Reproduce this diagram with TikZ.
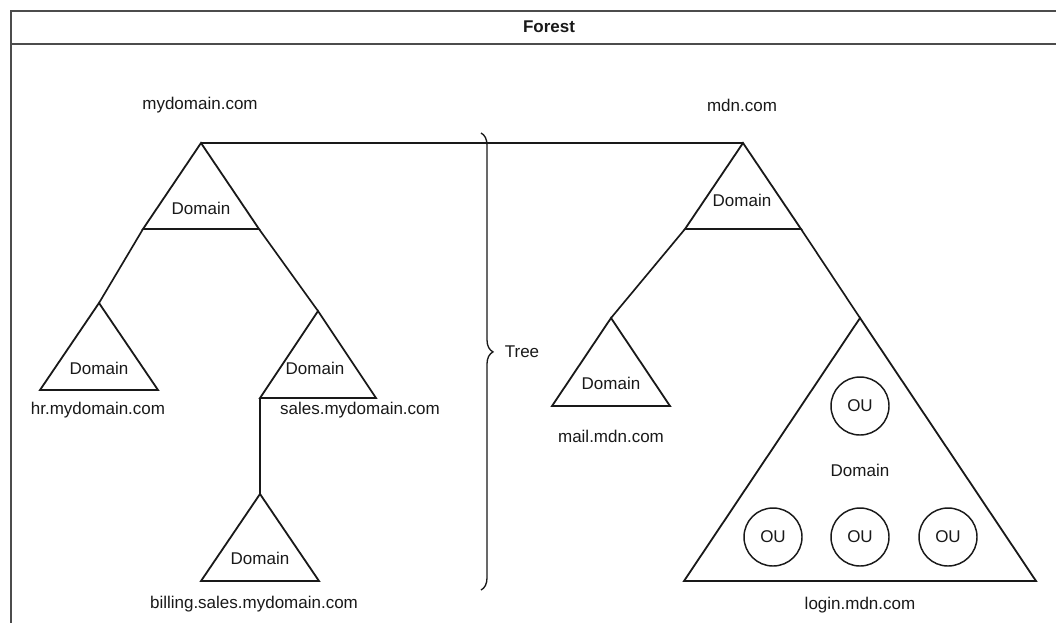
\documentclass[tikz,border=0pt]{standalone}
\usepackage{fontspec}
\setmainfont{Liberation Sans}
\usetikzlibrary{decorations.pathreplacing}

% a domain triangle: name, apex x, apex y, half width, height
\newcommand\domaintri[5]{%
  \coordinate (#1-t) at (#2,#3);
  \coordinate (#1-l) at ({#2-#4},{#3+#5});
  \coordinate (#1-r) at ({#2+#4},{#3+#5});
  \draw[triline] (#1-t) -- (#1-l) -- (#1-r) -- cycle;
}

\begin{document}
\begin{tikzpicture}[x=0.75pt,y=-0.75pt,
  triline/.style={line width=1.35pt,line join=miter,black!90},
  link/.style={line width=1.25pt,black!90},
  frameline/.style={line width=1.3pt,black!70},
  txt/.style={inner sep=0pt,font=\fontsize{12.75}{15}\selectfont,text=black!90},
  ou/.style={circle,draw=black!90,line width=1.1pt,minimum size=58*0.75pt,inner sep=0pt,
    font=\fontsize{12.75}{15}\selectfont,text=black!90}]
\useasboundingbox (0,0) rectangle (1056,622);
\fill[white] (0,0) rectangle (1056,622);

% outer frame with its title band
\begin{scope}
  \clip (0,0) rectangle (1056,622);
  \draw[frameline] (11,700) -- (11,11) -- (1100,11);
  \draw[frameline] (11,44) -- (1100,44);
\end{scope}
\node[txt,font=\fontsize{12.75}{15}\selectfont\bfseries] (title) at (549,27) {Forest};

% mydomain.com tree
\domaintri{md}{201}{143}{58}{86}
\domaintri{hr}{99}{303}{59}{87}
\domaintri{sales}{318}{311}{58}{87}
\domaintri{bill}{260}{494}{59}{87}

\draw[link] (md-l) -- (hr-t);
\draw[link] (md-r) -- (sales-t);
\draw[link] (sales-l) -- (bill-t);

\node[txt] (mdname) at (200,105) {mydomain.com};
\node[txt] (mddom) at (201,208) {Domain};
\node[txt] (hrdom) at (99,368) {Domain};
\node[txt] (hrname) at (98,410) {hr.mydomain.com};
\node[txt] (salesdom) at (315,368) {Domain};
\node[txt] (salesname) at (360,410) {sales.mydomain.com};
\node[txt] (billdom) at (260,558) {Domain};
\node[txt] (billname) at (254,604) {billing.sales.mydomain.com};

% mdn.com tree
\domaintri{mdn}{743}{143}{58}{86}
\domaintri{mail}{611}{318}{59}{88}
\domaintri{login}{860}{318}{176}{263}

\draw[link] (mdn-l) -- (mail-t);
\draw[link] (mdn-r) -- (login-t);

\node[txt] (mdnname) at (742,105) {mdn.com};
\node[txt] (mdndom) at (742,200) {Domain};
\node[txt] (maildom) at (611,383) {Domain};
\node[txt] (mailname) at (611,436) {mail.mdn.com};
\node[txt] (logindom) at (860,470) {Domain};
\node[txt] (loginname) at (860,605) {login.mdn.com};

\node[ou] (ou1) at (860,406) {OU};
\node[ou] (ou2) at (773,537) {OU};
\node[ou] (ou3) at (860,537) {OU};
\node[ou] (ou4) at (948,537) {OU};

% link between the two tree roots
\draw[link] (md-t) -- (mdn-t);

% brace grouping the first tree
\coordinate (bracetop) at (481,133);
\coordinate (bracebot) at (481,590);
\draw[line width=1pt,black!90,decorate,decoration={brace,amplitude=9pt,aspect=0.479}]
  (bracetop) -- (bracebot);
\node[txt] (treelabel) at (522,352) {Tree};
\end{tikzpicture}
\end{document}
